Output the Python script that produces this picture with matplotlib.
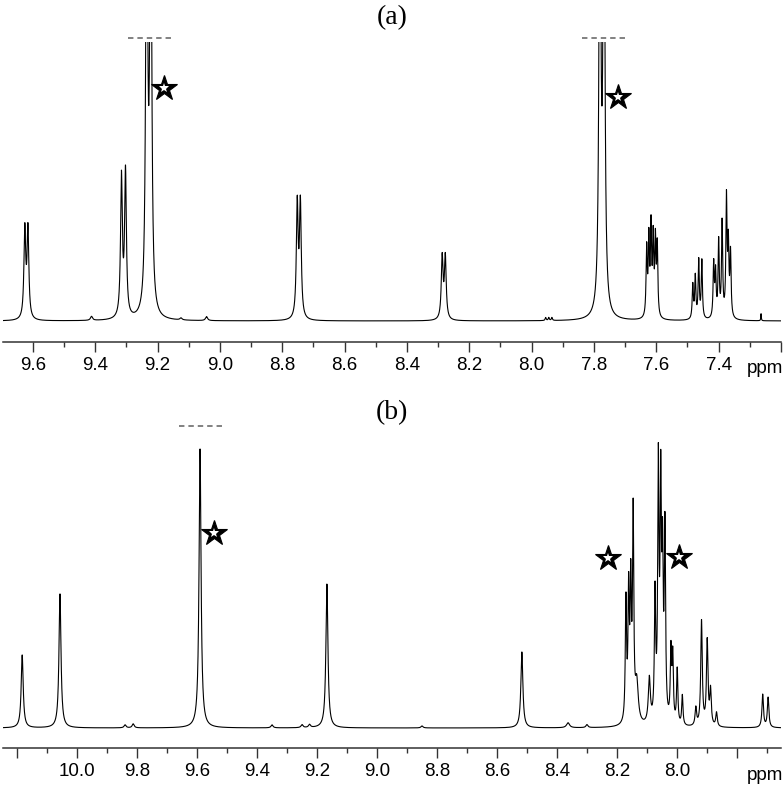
import matplotlib.pyplot as plt
import numpy as np

# ---- panel (a): peak list (ppm, height in px above baseline, half width)
a_shift = [9.626, 9.616, 9.412, 9.316, 9.303, 9.235, 9.222, 9.125, 9.043,
           8.752, 8.742, 8.287, 8.277, 7.955, 7.945, 7.935, 7.781, 7.768,
           7.631, 7.624, 7.617, 7.610, 7.603, 7.597,
           7.483, 7.475, 7.464, 7.454,
           7.416, 7.410, 7.400, 7.389, 7.375, 7.369, 7.362, 7.264]
a_height = [89, 89, 4, 140, 145, 500, 500, 2, 4,
            114, 114, 62, 62, 3, 3, 3, 500, 500,
            68, 76, 88, 76, 74, 70,
            34, 42, 58, 58,
            54, 44, 76, 95, 118, 70, 64, 7]
a_hw = [0.0034, 0.0034, 0.004, 0.0034, 0.0034, 0.0034, 0.0034, 0.004, 0.004,
        0.0034, 0.0034, 0.0034, 0.0034, 0.002, 0.002, 0.002, 0.0034, 0.0034,
        0.0022, 0.0022, 0.0022, 0.0022, 0.0022, 0.0022,
        0.0022, 0.0022, 0.0022, 0.0022,
        0.0022, 0.0022, 0.0022, 0.0022, 0.0022, 0.0022, 0.0022, 0.001]
a_cut = [(9.294, 9.152), (7.839, 7.697)]   # dashed "off scale" marks
a_stars = [(9.181, 233), (7.723, 224)]
a_ticks = [9.6, 9.4, 9.2, 9.0, 8.8, 8.6, 8.4, 8.2, 8.0, 7.8, 7.6, 7.4, 7.2]
a_labels = ["9.6", "9.4", "9.2", "9.0", "8.8", "8.6", "8.4", "8.2", "8.0",
            "7.8", "7.6", "7.4", ""]

# ---- panel (b)
b_shift = [10.183, 10.057, 9.840, 9.813, 9.590, 9.350, 9.250, 9.225, 9.167,
           8.850, 8.517, 8.363, 8.300,
           8.170, 8.161, 8.154, 8.146, 8.134, 8.092,
           8.073, 8.062, 8.054, 8.048, 8.040,
           8.020, 8.014, 7.999, 7.982, 7.937, 7.918, 7.899, 7.888, 7.868,
           7.714, 7.696]
b_height = [73, 134, 3, 4, 279, 3, 3, 3, 144,
            2, 76, 5, 3,
            120, 125, 130, 205, 40, 45,
            125, 250, 225, 150, 190,
            70, 65, 55, 30, 18, 105, 85, 35, 14,
            33, 30]
b_hw = [0.004, 0.004, 0.004, 0.004, 0.004, 0.004, 0.004, 0.004, 0.004,
        0.004, 0.004, 0.006, 0.004,
        0.0025, 0.0025, 0.0025, 0.0025, 0.006, 0.004,
        0.0025, 0.0025, 0.0025, 0.0025, 0.0025,
        0.0025, 0.0025, 0.0025, 0.0025, 0.003, 0.003, 0.003, 0.003, 0.003,
        0.003, 0.003]
b_cut = [(9.66, 9.513)]
b_stars = [(9.543, 195), (8.23, 170), (7.993, 171)]
b_ticks = [10.2, 10.0, 9.8, 9.6, 9.4, 9.2, 9.0, 8.8, 8.6, 8.4, 8.2, 8.0, 7.8]
b_labels = ["", "10.0", "9.8", "9.6", "9.4", "9.2", "9.0", "8.8", "8.6",
            "8.4", "8.2", "8.0", ""]


def spectrum(x, shifts, heights, widths):
    y = np.zeros_like(x)
    for s, h, w in zip(shifts, heights, widths):
        y += h * w**2 / ((x - s)**2 + w**2)
    return y


W, H = 784, 786
fig = plt.figure(figsize=(W / 100, H / 100), dpi=100)


def panel(top, bottom, base, xlim, shifts, heights, widths, cuts, stars,
          ticks, labels, title, title_y):
    ax = fig.add_axes([3 / W, 1 - bottom / H, 778 / W, (bottom - top) / H])
    x = np.linspace(xlim[0], xlim[1], 8000)
    y = spectrum(x, shifts, heights, widths)
    ax.plot(x, y, color="black", lw=0.8)
    ax.set_xlim(xlim)
    ax.set_ylim(-(bottom - base), base - top)
    for x0, x1 in cuts:
        ax.plot([x0, x1], [base - top + 4, base - top + 4], color="#777777",
                lw=1.3, ls=(0, (3, 2.2)), clip_on=False)
    for sx, sy in stars:
        ax.plot(sx, sy, marker="*", ms=19, color="black", mec="black",
                mew=0.8, ls="none")
        ax.plot(sx, sy, marker="*", ms=7, color="white", mew=0, ls="none")
    for s in ["left", "right", "top"]:
        ax.spines[s].set_visible(False)
    ax.spines["bottom"].set_linewidth(1.1)
    ax.spines["bottom"].set_color("#333333")
    ax.set_yticks([])
    ax.set_xticks(ticks, labels)
    ax.set_xticks(np.arange(round(min(xlim), 1), max(xlim), 0.1), minor=True)
    ax.tick_params(axis="x", which="major", length=7, width=1.0, color="#333333",
                   pad=4, labelsize=13.5)
    ax.tick_params(axis="x", which="minor", length=3.5, width=1.0, color="#333333")
    for lab in ax.get_xticklabels():
        lab.set_fontfamily("Liberation Sans")
    fig.text(392 / W, 1 - title_y / H, title, ha="center", va="center",
             fontsize=20, family="Liberation Serif")
    fig.text(765 / W, 1 - (bottom + 27) / H, "ppm", ha="center", va="center",
             fontsize=13.5, family="Liberation Sans")
    return ax


panel(42, 342, 321, (9.696, 7.2), a_shift, a_height, a_hw, a_cut, a_stars,
      a_ticks, a_labels, "(a)", 18)
panel(430, 748, 728, (10.247, 7.653), b_shift, b_height, b_hw, b_cut, b_stars,
      b_ticks, b_labels, "(b)", 413)

fig.savefig("out.png", dpi=100)
